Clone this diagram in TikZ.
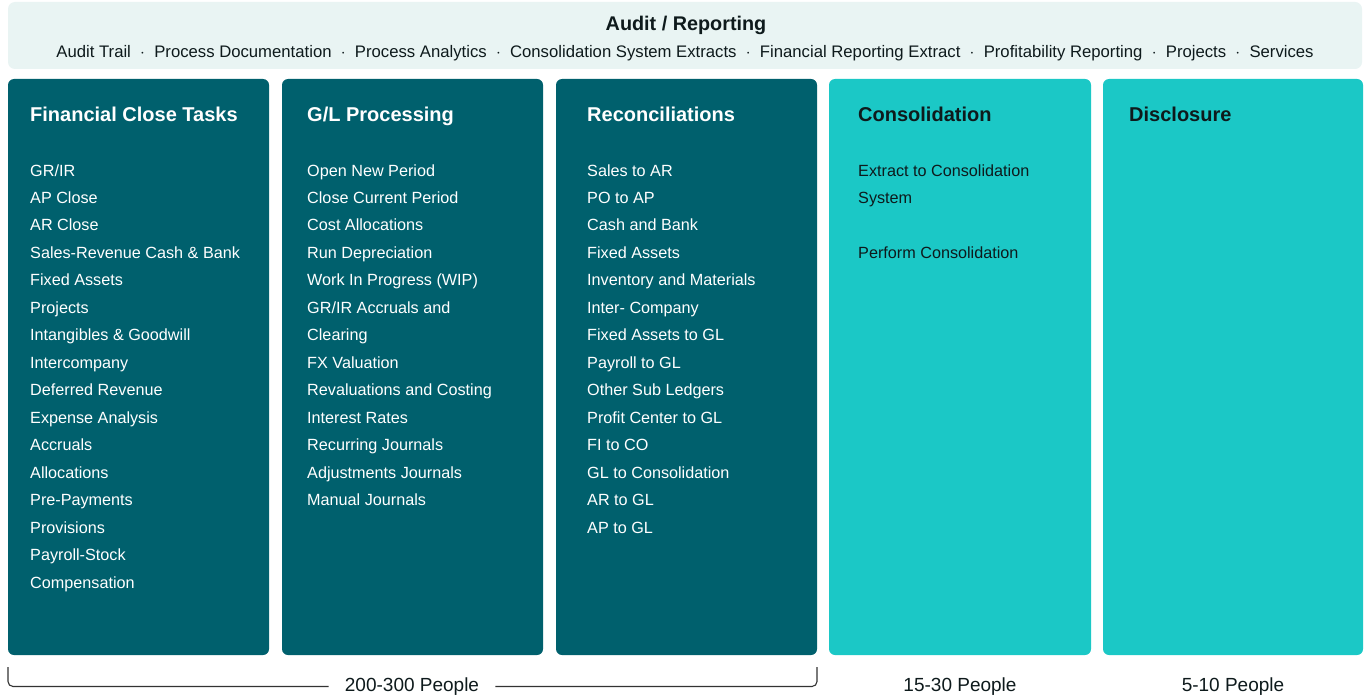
\documentclass[tikz,border=0pt]{standalone}
\usepackage{fontspec}
\setmainfont{Liberation Sans}
\begin{document}
\begin{tikzpicture}[x=1pt,y=-1pt,
  dark/.style={fill=darkteal, rounded corners=6pt, draw=none},
  light/.style={fill=lightteal, rounded corners=6pt, draw=none},
  head/.style={anchor=base west, inner sep=0pt, font=\fontsize{20}{22}\selectfont\bfseries},
  item/.style={anchor=base west, inner sep=0pt, font=\fontsize{16.2}{19}\selectfont},
  foot/.style={inner xsep=16pt, inner ysep=0pt, font=\fontsize{19}{22}\selectfont, text=inkdark},
  brace/.style={draw=inkgray, line width=1.1pt, rounded corners=5pt}]
\definecolor{darkteal}{HTML}{00606D}
\definecolor{lightteal}{HTML}{1BC8C6}
\definecolor{bannerbg}{HTML}{E9F4F3}
\definecolor{inkdark}{HTML}{0E1A1C}
\definecolor{inkgray}{HTML}{333333}
\useasboundingbox (0,0) rectangle (1364,698);
\fill[white] (0,0) rectangle (1364,698);
% banner
\path[fill=bannerbg, rounded corners=7pt] (8,2) rectangle (1362,69);
\node[anchor=base, inner sep=0pt, font=\fontsize{19.8}{22}\selectfont\bfseries, text=inkdark] (btitle) at (686,30.5) {Audit / Reporting};
\node[anchor=base, inner sep=0pt, font=\fontsize{16.7}{19}\selectfont, text=inkdark] (bsub) at (685,57.3) {Audit Trail\ \ $\cdot$\ \ Process Documentation\ \ $\cdot$\ \ Process Analytics\ \ $\cdot$\ \ Consolidation System Extracts\ \ $\cdot$\ \ Financial Reporting Extract\ \ $\cdot$\ \ Profitability Reporting\ \ $\cdot$\ \ Projects\ \ $\cdot$\ \ Services};
% columns
\path[dark] (8,79) rectangle (269,655);
\path[dark] (282,79) rectangle (543,655);
\path[dark] (556,79) rectangle (817,655);
\path[light] (829,79) rectangle (1091,655);
\path[light] (1103,79) rectangle (1363,655);
% headers
\node[head, text=white] (h1) at (30,121.8) {Financial Close Tasks};
\node[head, text=white] (h2) at (307,121.8) {G/L Processing};
\node[head, text=white] (h3) at (587,121.8) {Reconciliations};
\node[head, text=inkdark] (h4) at (858,121.8) {Consolidation};
\node[head, text=inkdark] (h5) at (1129,121.8) {Disclosure};
% items
\foreach [count=\i] \t in {GR/IR, AP Close, AR Close, Sales-Revenue Cash \& Bank, Fixed Assets, Projects, Intangibles \& Goodwill, Intercompany, Deferred Revenue, Expense Analysis, Accruals, Allocations, Pre-Payments, Provisions, Payroll-Stock, Compensation}
  \node[item, text=white] (a\i) at (30,{176+27.47*(\i-1)}) {\t};
\foreach [count=\i] \t in {Open New Period, Close Current Period, Cost Allocations, Run Depreciation, Work In Progress (WIP), GR/IR Accruals and, Clearing, FX Valuation, Revaluations and Costing, Interest Rates, Recurring Journals, Adjustments Journals, Manual Journals}
  \node[item, text=white] (b\i) at (307,{176+27.47*(\i-1)}) {\t};
\foreach [count=\i] \t in {Sales to AR, PO to AP, Cash and Bank, Fixed Assets, Inventory and Materials, Inter- Company, Fixed Assets to GL, Payroll to GL, Other Sub Ledgers, Profit Center to GL, FI to CO, GL to Consolidation, AR to GL, AP to GL}
  \node[item, text=white] (c\i) at (587,{176+27.47*(\i-1)}) {\t};
\node[item, text=inkdark] (d1) at (858,176) {Extract to Consolidation};
\node[item, text=inkdark] (d2) at (858,203.5) {System};
\node[item, text=inkdark] (d3) at (858,258.4) {Perform Consolidation};
% footer
\node[foot] (f1) at (412,686.5) {200-300 People};
\node[foot] (f2) at (960,686.5) {15-30 People};
\node[foot] (f3) at (1233,686.5) {5-10 People};
\coordinate (bl) at (8,667);
\coordinate (br) at (817,667);
\draw[brace] (bl) |- (f1.west);
\draw[brace] (f1.east) -| (br);
\end{tikzpicture}
\end{document}
